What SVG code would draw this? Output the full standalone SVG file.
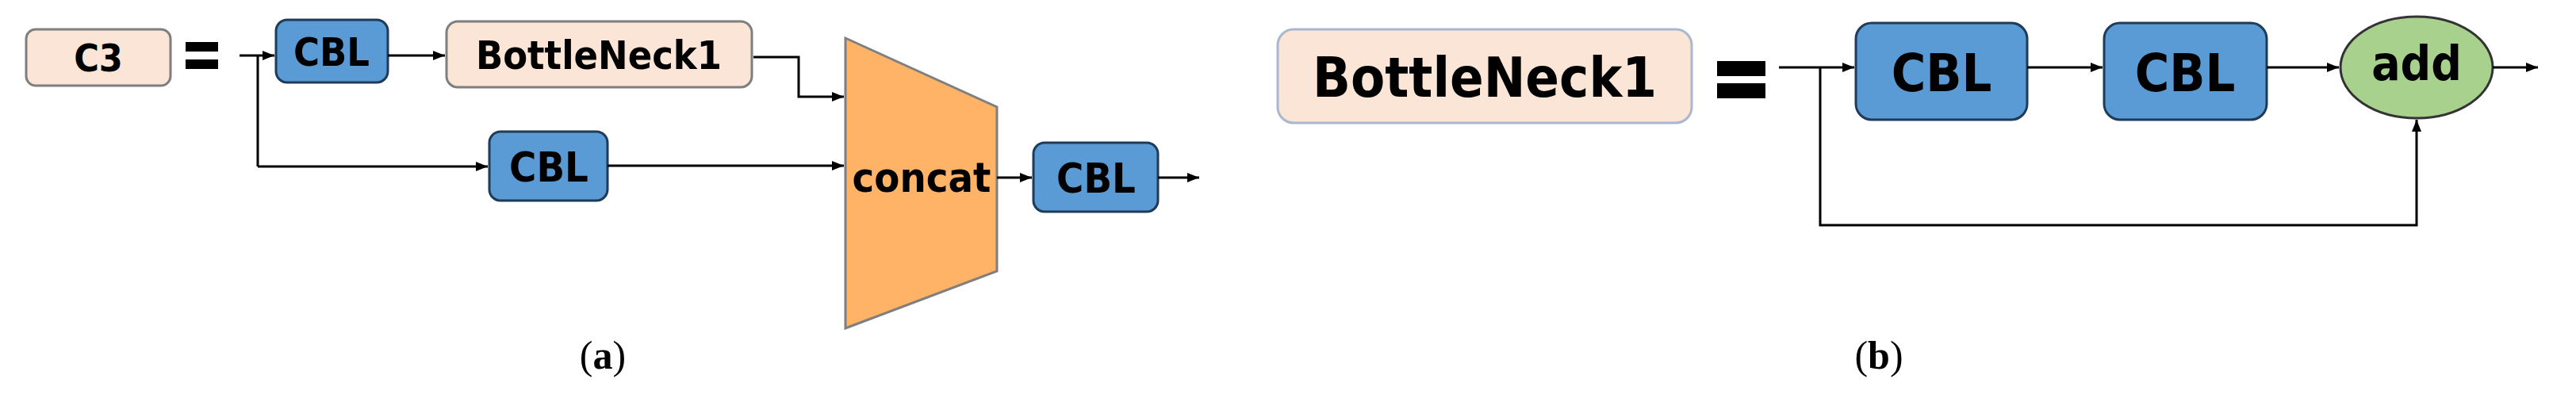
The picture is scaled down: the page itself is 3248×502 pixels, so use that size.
<svg xmlns="http://www.w3.org/2000/svg" width="3248" height="502" viewBox="0 0 3248 502">
<defs>
<marker id="ah" viewBox="0 0 10 10" refX="10" refY="5" markerWidth="5" markerHeight="5" orient="auto"><path d="M0,1 L10,5 L0,9 z" fill="#000"/></marker>
<style>
.cbl{fill:#5b9bd5;stroke:#1f3b5a;stroke-width:3}
.pk{fill:#fbe5d6;stroke:#7f7f7f;stroke-width:3}
.t{font-family:"DejaVu Sans Condensed","DejaVu Sans",sans-serif;font-weight:bold;text-anchor:middle;dominant-baseline:central;fill:#000}
.ln{fill:none;stroke:#000;stroke-width:3}
.ar{marker-end:url(#ah)}
.cap{font-family:"Liberation Serif",serif;font-size:50px;text-anchor:middle}
</style>
</defs>
<g id="c3"><rect class="pk" x="33" y="37" width="182" height="71" rx="12"/><text class="t" x="124" y="73" font-size="48">C3</text></g>
<g id="eqa"><rect x="234" y="53" width="41" height="12"/><rect x="234" y="75" width="41" height="12"/></g>
<g id="cbl1a"><rect class="cbl" x="348" y="25" width="141" height="79" rx="14"/><text class="t" x="418" y="66" font-size="50">CBL</text></g>
<g id="bn1a"><rect class="pk" x="563" y="27" width="385" height="83" rx="14"/><text class="t" x="755" y="70" font-size="50">BottleNeck1</text></g>
<g id="concat"><polygon points="1066,48 1257,135 1257,342 1066,414" fill="#ffb366" stroke="#7f7f7f" stroke-width="3"/><text class="t" x="1162" y="224" font-size="52">concat</text></g>
<g id="cbl2a"><rect class="cbl" x="617" y="166" width="149" height="87" rx="14"/><text class="t" x="692" y="211" font-size="52">CBL</text></g>
<g id="cbl3a"><rect class="cbl" x="1303" y="180" width="157" height="87" rx="14"/><text class="t" x="1382" y="225" font-size="52">CBL</text></g>
<g id="bn1b"><rect x="1611" y="37" width="522" height="118" rx="20" fill="#fbe5d6" stroke="#a9b8cf" stroke-width="3"/><text class="t" x="1872" y="98" font-size="70">BottleNeck1</text></g>
<g id="eqb"><rect x="2165" y="77" width="61" height="19"/><rect x="2165" y="105" width="61" height="19"/></g>
<g id="cbl1b"><rect class="cbl" x="2340" y="29" width="216" height="122" rx="20"/><text class="t" x="2448" y="92" font-size="66">CBL</text></g>
<g id="cbl2b"><rect class="cbl" x="2653" y="29" width="205" height="122" rx="20"/><text class="t" x="2755" y="92" font-size="66">CBL</text></g>
<g id="add"><ellipse cx="3047" cy="85" rx="96" ry="64" fill="#a9d18e" stroke="#333" stroke-width="3"/><text class="t" x="3047" y="80" font-size="60">add</text></g>
<g id="connectors">
<path class="ln ar" d="M302,70 H346"/>
<path class="ln" d="M325,70 V210"/>
<path class="ln ar" d="M325,210 H615"/>
<path class="ln ar" d="M489,70 H561"/>
<path class="ln ar" d="M950,72 H1007 V122 H1064"/>
<path class="ln ar" d="M766,209 H1064"/>
<path class="ln ar" d="M1257,224 H1301"/>
<path class="ln ar" d="M1460,224 H1512"/>
<path class="ln ar" d="M2243,85 H2338"/>
<path class="ln ar" d="M2556,85 H2651"/>
<path class="ln ar" d="M2858,85 H2949"/>
<path class="ln ar" d="M3143,85 H3200"/>
<path class="ln ar" d="M2295,85 V284 H3047 V151"/>
</g>
<text class="cap" x="760" y="465">(<tspan font-weight="bold">a</tspan>)</text>
<text class="cap" x="2369" y="465">(<tspan font-weight="bold">b</tspan>)</text>
</svg>
